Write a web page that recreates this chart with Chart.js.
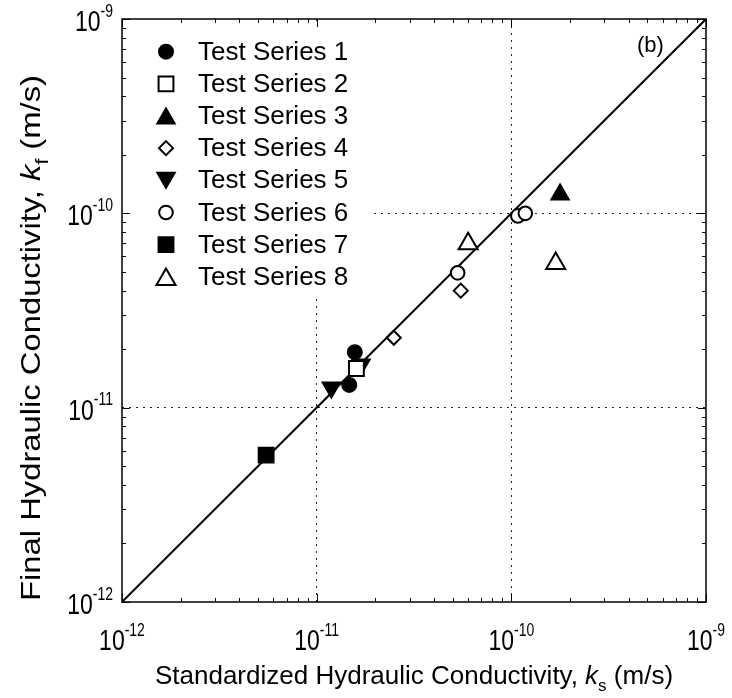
<!DOCTYPE html>
<html>
<head>
<meta charset="utf-8">
<script src="https://cdn.jsdelivr.net/npm/chart.js@4.4.1/dist/chart.umd.min.js"></script>
<style>
  html, body { margin: 0; padding: 0; background: #fff; }
  #wrap { width: 732px; height: 698px; }
</style>
</head>
<body>
<div id="wrap"><canvas id="chart" width="732" height="698"></canvas></div>
<script>
// ---- data (k_s, k_f in m/s) ----
var seriesNames = ['Test Series 1', 'Test Series 2', 'Test Series 3', 'Test Series 4',
                   'Test Series 5', 'Test Series 6', 'Test Series 7', 'Test Series 8'];
var ks1 = [1.57e-11, 1.47e-11];            var kf1 = [1.93e-11, 1.31e-11];
var ks2 = [1.60e-11];                      var kf2 = [1.59e-11];
var ks3 = [1.78e-10];                      var kf3 = [1.25e-10];
var ks4 = [2.49e-11, 5.5e-11];             var kf4 = [2.29e-11, 4.0e-11];
var ks5 = [1.69e-11, 1.19e-11];            var kf5 = [1.67e-11, 1.27e-11];
var ks6 = [5.3e-11, 1.08e-10, 1.18e-10];   var kf6 = [4.94e-11, 9.7e-11, 1.0e-10];
var ks7 = [5.5e-12];                       var kf7 = [5.7e-12];
var ks8 = [1.69e-10, 6.0e-11];             var kf8 = [5.52e-11, 6.97e-11];
var equalityLine = [1e-12, 1e-9];
var decadeExps = [-12, -11, -10, -9];

var FONT = '"Liberation Sans", Arial, Helvetica, sans-serif';

function pts(xs, ys) {
  return xs.map(function(v, i) { return { x: v, y: ys[i] }; });
}

// marker styles, same order as seriesNames
var markers = [
  { pointStyle: 'circle',   radius: 7,    rotation: 0,   fill: '#000' },
  { pointStyle: 'rect',     radius: 10.5, rotation: 0,   fill: '#fff' },
  { pointStyle: 'triangle', radius: 10,   rotation: 0,   fill: '#000' },
  { pointStyle: 'rectRot',  radius: 7,    rotation: 0,   fill: '#fff' },
  { pointStyle: 'triangle', radius: 10,   rotation: 180, fill: '#000' },
  { pointStyle: 'circle',   radius: 6.8,  rotation: 0,   fill: '#fff' },
  { pointStyle: 'rect',     radius: 10.5, rotation: 0,   fill: '#000' },
  { pointStyle: 'triangle', radius: 11,   rotation: 0,   fill: '#fff' }
];
var seriesData = [pts(ks1, kf1), pts(ks2, kf2), pts(ks3, kf3), pts(ks4, kf4),
                  pts(ks5, kf5), pts(ks6, kf6), pts(ks7, kf7), pts(ks8, kf8)];

var datasets = seriesNames.map(function(name, i) {
  var m = markers[i];
  return {
    type: 'scatter',
    label: name,
    data: seriesData[i],
    pointStyle: m.pointStyle,
    pointRadius: m.radius,
    pointRotation: m.rotation,
    pointBackgroundColor: m.fill,
    pointBorderColor: '#000',
    pointBorderWidth: 2,
    pointHoverRadius: m.radius,
    order: 1
  };
});
datasets.push({
  type: 'line',
  label: '1:1',
  data: pts(equalityLine, equalityLine),
  borderColor: '#000',
  borderWidth: 2,
  pointRadius: 0,
  fill: false,
  order: 5
});

function isInnerDecade(v) {
  var l = Math.log10(v);
  return Math.abs(l - Math.round(l)) < 1e-6 && l > -11.5 && l < -9.5;
}

// "10" with superscript exponent, a bit taller than wide like the original
function drawPow(ctx, x, y, exp, align) {
  var sy = 1.3;
  ctx.font = '23px ' + FONT;
  var wb = ctx.measureText('10').width;
  ctx.font = '14px ' + FONT;
  var we = ctx.measureText(exp).width;
  var x0 = align === 'center' ? x - (wb + we) / 2 : (align === 'right' ? x - wb - we : x);
  ctx.save();
  ctx.translate(x0, y);
  ctx.scale(1, sy);
  ctx.textAlign = 'left';
  ctx.textBaseline = 'alphabetic';
  ctx.font = '23px ' + FONT;
  ctx.fillText('10', 0, 0);
  ctx.font = '14px ' + FONT;
  ctx.fillText(exp, wb, -11);
  ctx.restore();
}

// text pieces: [text, style] where style is 'n', 'i' (italic) or 'sub'
function drawRich(ctx, parts, cx, y, size, sx) {
  var subSize = Math.round(size * 0.65);
  function setF(p) {
    if (p[1] === 'i') ctx.font = 'italic ' + size + 'px ' + FONT;
    else if (p[1] === 'sub') ctx.font = subSize + 'px ' + FONT;
    else ctx.font = size + 'px ' + FONT;
  }
  var total = 0;
  parts.forEach(function(p) { setF(p); total += ctx.measureText(p[0]).width; });
  ctx.save();
  ctx.translate(cx, y);
  ctx.scale(sx, 1);
  var x = -total / 2;
  ctx.textAlign = 'left';
  ctx.textBaseline = 'alphabetic';
  parts.forEach(function(p) {
    setF(p);
    ctx.fillText(p[0], x, p[1] === 'sub' ? size * 0.27 : 0);
    x += ctx.measureText(p[0]).width;
  });
  ctx.restore();
}

var framePlugin = {
  id: 'frame',
  beforeDatasetsDraw: function(chart) {
    var ctx = chart.ctx, a = chart.chartArea;
    // legend (white box hides the grid behind it)
    ctx.save();
    ctx.fillStyle = '#fff';
    ctx.fillRect(a.left + 2, a.top + 2, 250, 278);
    seriesNames.forEach(function(name, i) {
      var m = markers[i];
      var y = 51.7 + i * 32.15;
      ctx.fillStyle = m.fill;
      ctx.strokeStyle = '#000';
      ctx.lineWidth = 2;
      Chart.helpers.drawPoint(ctx, { pointStyle: m.pointStyle, radius: m.radius, rotation: m.rotation, borderWidth: 2 },
        166, y + (m.pointStyle === 'triangle' ? (m.rotation ? -m.radius / 4 : m.radius / 4) : 0));
      ctx.fillStyle = '#000';
      ctx.font = '26px ' + FONT;
      ctx.textAlign = 'left';
      ctx.textBaseline = 'middle';
      ctx.fillText(name, 198, y + 1);
    });
    ctx.restore();
  },
  afterDraw: function(chart) {
    var ctx = chart.ctx, a = chart.chartArea;
    var xs = chart.scales.x, ys = chart.scales.y;
    ctx.save();
    ctx.strokeStyle = '#000';
    ctx.fillStyle = '#000';
    // inward ticks on all four sides
    ctx.lineWidth = 1;
    decadeExps.forEach(function(e) {
      for (var k = 1; k <= 9; k++) {
        if (e === -9 && k > 1) break;
        var v = k * Math.pow(10, e);
        var len = k === 1 ? 8 : 4;
        var px = Math.round(xs.getPixelForValue(v)) + 0.5;
        var py = Math.round(ys.getPixelForValue(v)) + 0.5;
        ctx.beginPath();
        ctx.moveTo(px, a.bottom); ctx.lineTo(px, a.bottom - len);
        ctx.moveTo(px, a.top); ctx.lineTo(px, a.top + len);
        ctx.moveTo(a.left, py); ctx.lineTo(a.left + len, py);
        ctx.moveTo(a.right, py); ctx.lineTo(a.right - len, py);
        ctx.stroke();
      }
    });
    // frame
    ctx.lineWidth = 1.5;
    ctx.strokeRect(a.left, a.top, a.right - a.left, a.bottom - a.top);
    // tick labels
    decadeExps.forEach(function(e) {
      var v = Math.pow(10, e);
      drawPow(ctx, xs.getPixelForValue(v), 650, '-' + (-e), 'center');
      drawPow(ctx, 113, ys.getPixelForValue(v) + 12, '-' + (-e), 'right');
    });
    // panel tag
    ctx.font = '22px ' + FONT;
    ctx.textAlign = 'left';
    ctx.textBaseline = 'middle';
    ctx.fillText('(b)', 637, 46);
    // axis titles
    drawRich(ctx, [['Standardized Hydraulic Conductivity, ', 'n'], ['k', 'i'], ['s', 'sub'], [' (m/s)', 'n']],
      (a.left + a.right) / 2, 684, 26, 1);
    ctx.translate(40, 338);
    ctx.rotate(-Math.PI / 2);
    drawRich(ctx, [['Final Hydraulic Conductivity, ', 'n'], ['k', 'i'], ['f', 'sub'], [' (m/s)', 'n']], 0, 0, 28, 1.17);
    ctx.restore();
  }
};

function logAxis(isX) {
  return {
    type: 'logarithmic',
    min: 1e-12,
    max: 1e-9,
    ticks: { display: false },
    grid: {
      drawTicks: false,
      lineWidth: 1,
      color: function(c) {
        return c.tick && isInnerDecade(c.tick.value) ? '#222' : 'rgba(0,0,0,0)';
      }
    },
    border: { display: false, dash: [2, 5] },
    afterFit: function(scale) {
      if (isX) scale.height = 0; else scale.width = 0;
    }
  };
}

var chart = new Chart(document.getElementById('chart').getContext('2d'), {
  type: 'scatter',
  data: { datasets: datasets },
  options: {
    responsive: false,
    animation: false,
    devicePixelRatio: 1,
    layout: { padding: { left: 122, right: 26, top: 19, bottom: 96 } },
    scales: { x: logAxis(true), y: logAxis(false) },
    plugins: { legend: { display: false }, tooltip: { enabled: false } }
  },
  plugins: [framePlugin]
});
</script>
</body>
</html>
